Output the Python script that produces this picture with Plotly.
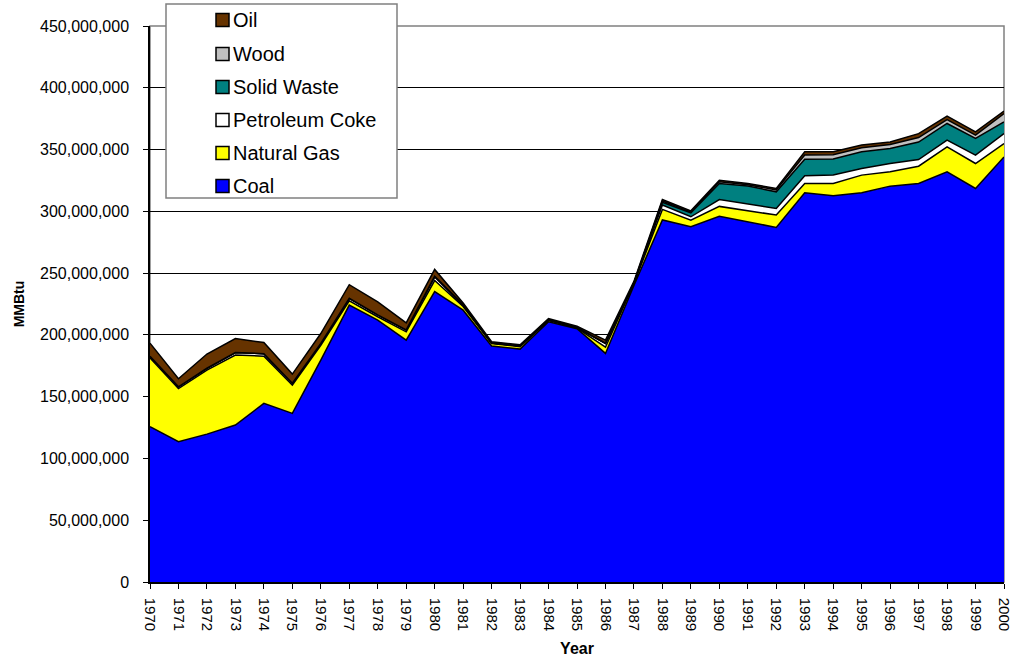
import plotly.graph_objects as go

years = list(range(1970, 2001))

coal = [125.7, 113.5, 119.7, 127.0, 144.6, 136.5, 179.6, 224.1, 212.0, 195.8,
        235.0, 220.0, 191.0, 188.5, 210.6, 205.0, 185.0, 240.0, 293.0, 287.5,
        296.0, 291.5, 287.0, 315.0, 312.6, 315.0, 320.4, 322.5, 332.0, 318.5, 344.0]
natural_gas = [55.6, 43.0, 51.8, 56.7, 38.2, 22.9, 12.0, 3.5, 2.7, 6.7,
               9.0, 3.0, 2.0, 2.0, 1.0, 0.5, 5.0, 1.5, 8.6, 5.4,
               8.0, 9.0, 10.0, 7.5, 10.0, 14.3, 11.6, 14.0, 20.2, 20.2, 10.8]
petroleum_coke = [1.5, 1.5, 1.5, 2.0, 2.0, 1.5, 1.5, 2.0, 1.5, 1.5,
                  3.0, 1.0, 0.5, 0.5, 0.5, 0.5, 3.0, 0.5, 3.5, 2.7,
                  5.5, 5.4, 5.3, 6.3, 6.8, 5.4, 6.7, 5.4, 5.4, 6.8, 8.1]
solid_waste = [0, 0, 0, 0, 0, 0, 0, 0, 0, 0,
               0, 0, 0, 0, 0, 0, 0, 0, 2.2, 3.2,
               13.0, 14.6, 13.5, 13.4, 12.9, 13.5, 12.2, 14.2, 13.5, 13.5, 9.4]
wood = [0, 0, 0, 0, 0, 0, 0, 0, 0, 0,
        0.5, 0.3, 0.2, 0.2, 0.2, 0.2, 0.3, 0.3, 1.0, 0.8,
        1.5, 1.0, 1.5, 3.3, 3.5, 3.2, 3.2, 3.6, 3.2, 2.7, 6.8]
oil = [10.5, 6.5, 11.5, 11.4, 9.0, 7.4, 8.0, 11.0, 10.5, 5.8,
       5.5, 1.5, 0.8, 0.8, 0.8, 0.8, 2.5, 1.0, 1.3, 0.8,
       1.2, 1.0, 1.2, 2.7, 2.5, 2.2, 2.1, 3.2, 2.7, 2.6, 2.1]

series = [
    ("Coal", coal, "#0000FF"),
    ("Natural Gas", natural_gas, "#FFFF00"),
    ("Petroleum Coke", petroleum_coke, "#FFFFFF"),
    ("Solid Waste", solid_waste, "#008080"),
    ("Wood", wood, "#C0C0C0"),
    ("Oil", oil, "#663300"),
]

W, H = 1010, 660
L, R, T, B = 150, 6, 26, 78
PW, PH = W - L - R, H - T - B

def px(x):  # x in screenshot pixels -> paper
    return (x - L) / PW

def py(y):  # y in screenshot pixels -> paper
    return (H - B - y) / PH

fig = go.Figure()
for name, vals, color in series:
    fig.add_trace(go.Scatter(
        x=years, y=[v * 1e6 for v in vals], name=name,
        mode="lines", stackgroup="one",
        line=dict(color="black", width=1.5),
        fillcolor=color, showlegend=False,
    ))

font_family = "Liberation Sans, Arial, sans-serif"

# manual legend (Excel style)
shapes = [dict(type="rect", xref="paper", yref="paper", x0=0, y0=0, x1=1, y1=1,
               line=dict(color="#808080", width=1.5), layer="below"),
          dict(type="rect", xref="paper", yref="paper",
               x0=px(166), x1=px(397), y0=py(198), y1=py(4),
               fillcolor="white", line=dict(color="#808080", width=1.5), layer="above")]
annotations = []
row_y = [20, 54, 87, 120, 153, 186]
for (name, vals, color), yc in zip(reversed(series), row_y):
    shapes.append(dict(type="rect", xref="paper", yref="paper",
                       x0=px(216), x1=px(229), y0=py(yc + 6.5), y1=py(yc - 6.5),
                       fillcolor=color, line=dict(color="black", width=1.5), layer="above"))
    annotations.append(dict(xref="paper", yref="paper", x=px(231), y=py(yc),
                            xanchor="left", yanchor="middle", text=name, showarrow=False,
                            font=dict(size=20, family=font_family, color="black")))

fig.update_layout(
    width=W, height=H,
    margin=dict(l=L, r=R, t=T, b=B, autoexpand=False),
    paper_bgcolor="white", plot_bgcolor="white",
    font=dict(family=font_family, color="black", size=16),
    showlegend=False,
    xaxis=dict(
        range=[1970, 2000], tickmode="linear", tick0=1970, dtick=1,
        tickangle=90, ticks="outside", ticklen=5, tickcolor="black",
        showline=True, linecolor="black", linewidth=1.5,
        showgrid=False, zeroline=False, automargin=False,
        ticklabeloverflow="allow", ticklabelstandoff=6,
        tickfont=dict(size=15),
        title=dict(text="<b>Year</b>", font=dict(size=16), standoff=13),
    ),
    yaxis=dict(
        range=[0, 450e6], tickmode="linear", tick0=0, dtick=50e6,
        tickformat=",d", ticks="outside", ticklen=5, tickcolor="black",
        showline=True, linecolor="black", linewidth=1.5,
        showgrid=True, gridcolor="black", gridwidth=1,
        zeroline=False, automargin=False,
        ticklabelstandoff=11,
        tickfont=dict(size=16),
        title=dict(text="<b>MMBtu</b>", font=dict(size=14), standoff=12),
    ),
    shapes=shapes,
    annotations=annotations,
)

# remove the default 8px page margin so the figure fills the window exactly
fig.write_html("out.html",
               config={"displayModeBar": False},
               post_script="document.body.style.margin='0';document.body.style.overflow='hidden';")
